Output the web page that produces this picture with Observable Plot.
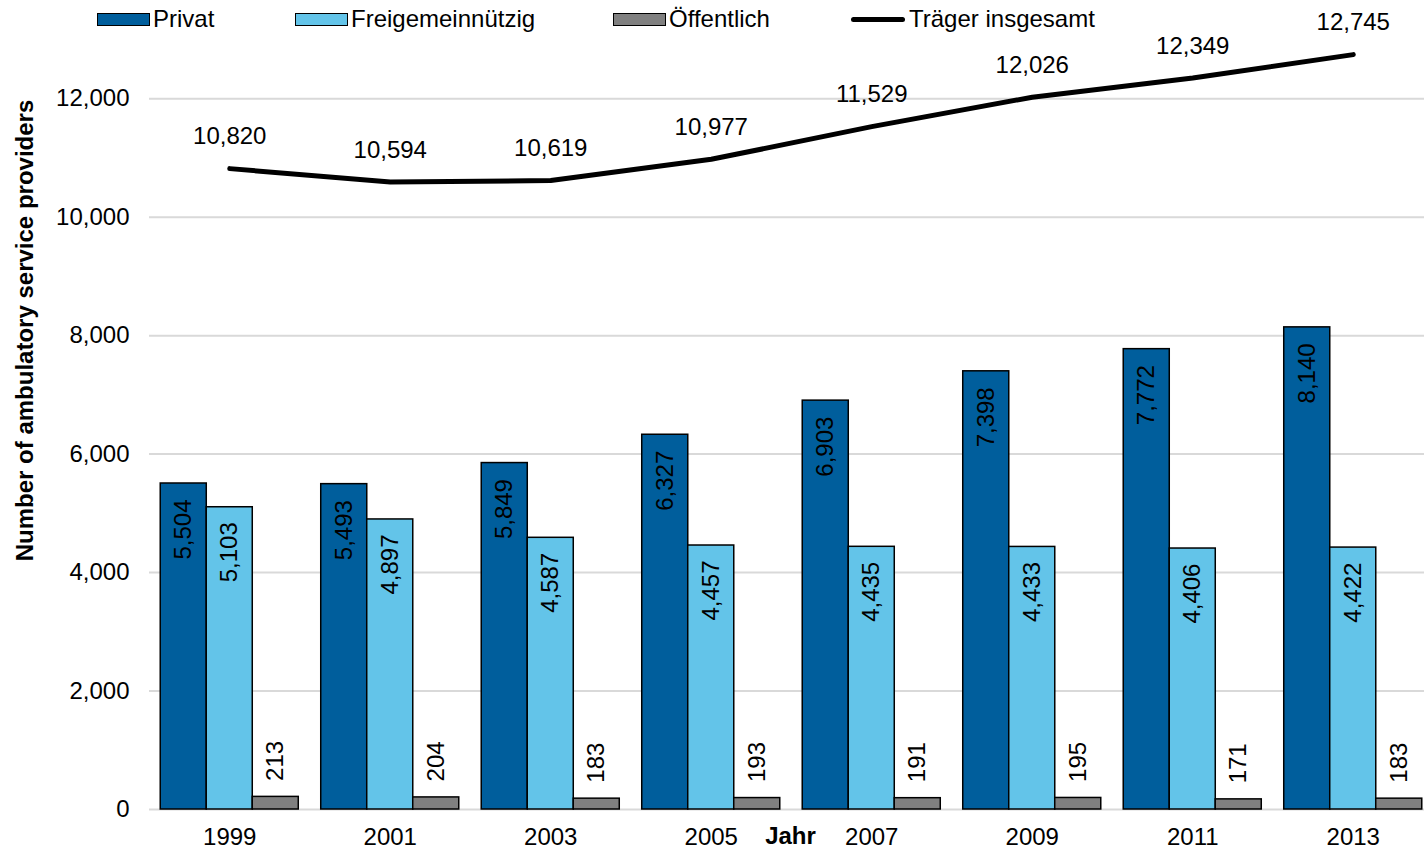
<!DOCTYPE html>
<html>
<head>
<meta charset="utf-8">
<script src="https://cdn.jsdelivr.net/npm/d3@7"></script>
<script src="https://cdn.jsdelivr.net/npm/@observablehq/plot@0.6"></script>
<style>
  html, body { margin: 0; padding: 0; background: #fff; overflow: hidden; }
  #wrap { position: relative; width: 1424px; height: 851px; overflow: hidden; font-family: "Liberation Sans", Arial, sans-serif; }
  #legend { position: absolute; top: 4px; left: 0; height: 30px; width: 1424px; font-size: 24px; color: #000; }
  .item { position: absolute; top: 0; display: flex; align-items: center; height: 30px; }
  .sw { width: 53px; height: 13px; border: 1.5px solid #000; margin-right: 3px; box-sizing: border-box; }
  .ln { width: 54px; height: 5px; background: #000; border-radius: 3px; margin-right: 4px; }
  #chart svg { display: block; max-width: none !important; }
</style>
</head>
<body>
<div id="wrap">
  <div id="chart"></div>
  <div id="legend"></div>
</div>
<script>
const years = ["1999", "2001", "2003", "2005", "2007", "2009", "2011", "2013"];
const privat = [5504, 5493, 5849, 6327, 6903, 7398, 7772, 8140];
const freigemeinnuetzig = [5103, 4897, 4587, 4457, 4435, 4433, 4406, 4422];
const oeffentlich = [213, 204, 183, 193, 191, 195, 171, 183];
const insgesamt = [10820, 10594, 10619, 10977, 11529, 12026, 12349, 12745];
const seriesNames = ["Privat", "Freigemeinnützig", "Öffentlich", "Träger insgesamt"];
const seriesColors = ["#005e9c", "#63c4e9", "#808080", "#000000"];
const yTicks = [0, 2000, 4000, 6000, 8000, 10000, 12000];

const fmt = d3.format(",");
const rows = years.map((y, i) => ({year: y, privat: privat[i], frei: freigemeinnuetzig[i], oeff: oeffentlich[i], total: insgesamt[i]}));

const FONT = "Liberation Sans, Arial, sans-serif";
const bw = 46; // each bar width in px (band 138 / 3)

const plot = Plot.plot({
  width: 1433,
  height: 851,
  marginLeft: 149,
  marginRight: 0,
  marginTop: 39,
  marginBottom: 42,
  style: {fontFamily: FONT, fontSize: "24px", color: "#000", background: "#fff", maxWidth: "none"},
  x: {domain: years, paddingInner: 0.14, paddingOuter: 0.07, round: false, label: null},
  y: {domain: [0, 13000], label: null},
  marks: [
    Plot.gridY(yTicks, {stroke: "#d9d9d9", strokeWidth: 2, strokeOpacity: 1}),
    Plot.axisY(yTicks, {tickSize: 0, tickPadding: 20, tickFormat: fmt, fontSize: 24, label: null}),
    Plot.axisX({tickSize: 0, tickPadding: 18, fontSize: 24, label: null}),
    Plot.barY(rows, {x: "year", y: "privat", fill: seriesColors[0], stroke: "#000", strokeWidth: 1.5, insetRight: 2 * bw}),
    Plot.barY(rows, {x: "year", y: "frei", fill: seriesColors[1], stroke: "#000", strokeWidth: 1.5, insetLeft: bw, insetRight: bw}),
    Plot.barY(rows, {x: "year", y: "oeff", fill: seriesColors[2], stroke: "#000", strokeWidth: 1.5, insetLeft: 2 * bw}),
    Plot.text(rows, {x: "year", y: "privat", text: d => fmt(d.privat), rotate: -90, textAnchor: "end", dx: -bw, dy: 16, fontSize: 24, fill: "#000"}),
    Plot.text(rows, {x: "year", y: "frei", text: d => fmt(d.frei), rotate: -90, textAnchor: "end", dy: 15, fontSize: 24, fill: "#000"}),
    Plot.text(rows, {x: "year", y: "oeff", text: d => fmt(d.oeff), rotate: -90, textAnchor: "start", dx: bw, dy: -16, fontSize: 24, fill: "#000"}),
    Plot.line(rows, {x: "year", y: "total", stroke: seriesColors[3], strokeWidth: 5, strokeLinecap: "round", strokeLinejoin: "round"}),
    Plot.text(rows, {x: "year", y: "total", text: d => fmt(d.total), dy: -32, fontSize: 24, fill: "#000"}),
    Plot.text(["Number of ambulatory service providers"], {frameAnchor: "left", textAnchor: "middle", text: d => d, rotate: -90, dx: -124, dy: -94, fontSize: 24, fontWeight: "bold", fill: "#000"}),
    Plot.text(["Jahr"], {frameAnchor: "bottom", text: d => d, dx: -1, dy: 34, fontSize: 24, fontWeight: "bold", fill: "#000"})
  ]
});
document.getElementById("chart").appendChild(plot);

const legendPos = [97, 295, 613, 851];
const legend = document.getElementById("legend");
seriesNames.forEach((name, i) => {
  const item = document.createElement("div");
  item.className = "item";
  item.style.left = legendPos[i] + "px";
  const mark = document.createElement("div");
  if (i < 3) { mark.className = "sw"; mark.style.background = seriesColors[i]; }
  else { mark.className = "ln"; }
  item.appendChild(mark);
  const t = document.createElement("span");
  t.textContent = name;
  item.appendChild(t);
  legend.appendChild(item);
});
</script>
</body>
</html>
